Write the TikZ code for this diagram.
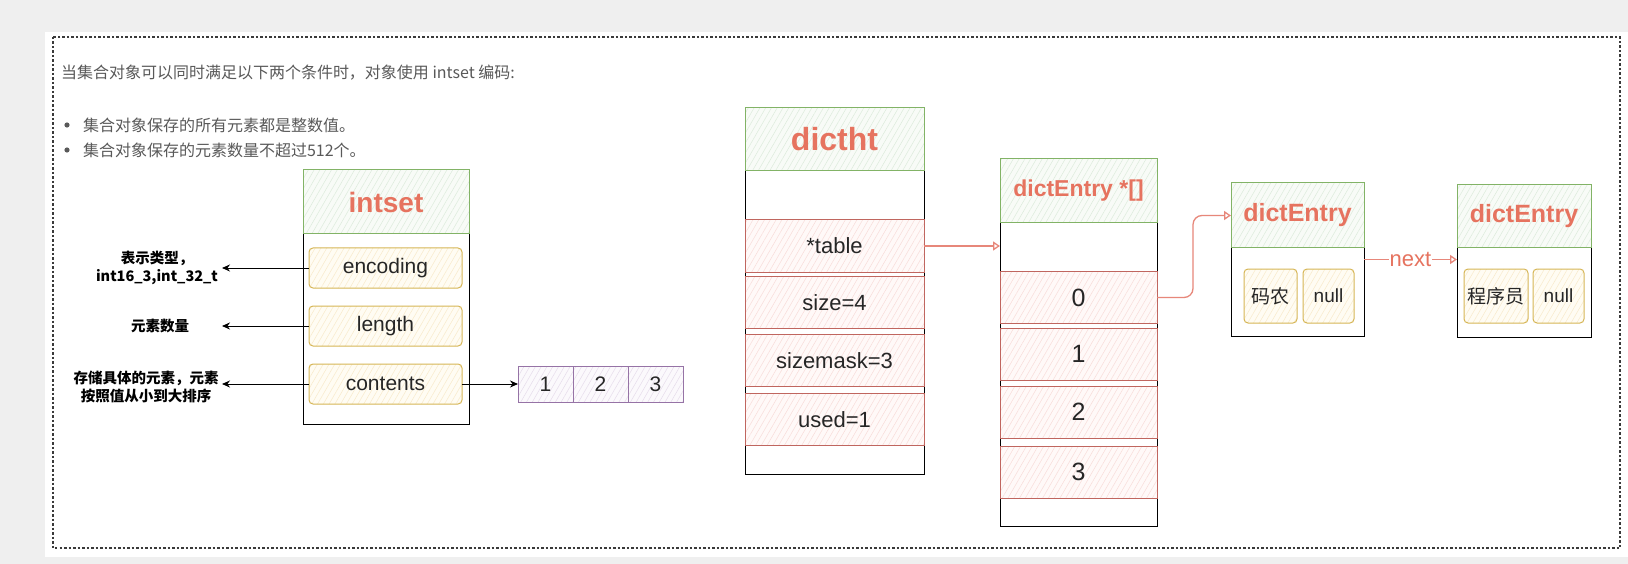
\documentclass[tikz,border=0pt]{standalone}
\usepackage{fontspec}
\setmainfont{Liberation Sans}
\newfontfamily\cjk{Noto Sans CJK SC}
\usetikzlibrary{arrows.meta,patterns.meta}
\definecolor{bgGray}{HTML}{EFEFEF}
\definecolor{frameC}{HTML}{3A3A3A}
\definecolor{txtGray}{HTML}{595959}
\definecolor{salmon}{HTML}{E6735F}
\definecolor{arrC}{HTML}{E7877A}
\definecolor{grnD}{HTML}{82B366}
\definecolor{grnF}{HTML}{F8FBF7}
\definecolor{grnH}{HTML}{DCEBDB}
\definecolor{redD}{HTML}{C0665F}
\definecolor{redF}{HTML}{FFF9F8}
\definecolor{redH}{HTML}{F8DCD9}
\definecolor{ylwD}{HTML}{D6B656}
\definecolor{ylwF}{HTML}{FFFCF3}
\definecolor{ylwH}{HTML}{F8EACB}
\definecolor{purD}{HTML}{9673A6}
\definecolor{purF}{HTML}{FBF9FC}
\definecolor{purH}{HTML}{E6DCEB}
\begin{document}
\begin{tikzpicture}[x=1pt,y=-1pt,
  every node/.style={inner sep=0pt, outer sep=0pt},
  frame/.style={draw=frameC, line width=1.3pt, dash pattern=on 2.5pt off 2pt},
  titletxt/.style={text=txtGray, font=\cjk\fontsize{16}{19}\selectfont, anchor=west},
  lbl/.style={align=center, text=black, font=\cjk\bfseries\fontsize{14.5}{18}\selectfont},
  body/.style={draw=black, line width=1pt, fill=white},
  hdr/.style={draw=grnD, line width=1pt, preaction={fill=grnF},
     preaction={pattern={Lines[angle=60,distance=5pt,line width=0.5pt]}, pattern color=grnH},
     text=salmon},
  yfld/.style={draw=ylwD, line width=1pt, rounded corners=4pt, preaction={fill=ylwF},
     preaction={pattern={Lines[angle=60,distance=5pt,line width=0.5pt]}, pattern color=ylwH},
     text=black!85, font=\fontsize{21}{24}\selectfont},
  rfld/.style={draw=redD, line width=1pt, preaction={fill=redF},
     preaction={pattern={Lines[angle=60,distance=5pt,line width=0.5pt]}, pattern color=redH},
     text=black!85},
  pcell/.style={draw=purD, line width=1pt, preaction={fill=purF},
     preaction={pattern={Lines[angle=60,distance=5pt,line width=0.5pt]}, pattern color=purH},
     text=black!85, font=\fontsize{21}{24}\selectfont, minimum width=55pt, minimum height=36pt},
  blkarr/.style={draw=black, line width=1pt, -{Stealth[length=8pt,width=7pt]}},
  salarr/.style={draw=arrC, line width=1.3pt, -{Triangle[open,length=7pt,width=9pt]}}
]
\useasboundingbox (0,0) rectangle (1628,564);
\fill[bgGray] (0,0) rectangle (1628,564);
\fill[white] (45,32) rectangle (1628,557);
\draw[frame] (53,37) rectangle (1620,548);

% heading text
\node[titletxt] (t0) at (61,73) {当集合对象可以同时满足以下两个条件时，对象使用 intset 编码:};
\fill[txtGray] (67,125) circle (2.6pt);
\fill[txtGray] (67,150) circle (2.6pt);
\node[titletxt] (b1) at (83,125) {集合对象保存的所有元素都是整数值。};
\node[titletxt] (b2) at (83,150) {集合对象保存的元素数量不超过512个。};

% intset
\node[body, minimum width=166pt, minimum height=254pt] (intset) at (386,297) {};
\node[hdr, minimum width=166pt, minimum height=64pt, font=\bfseries\fontsize{28}{30}\selectfont] (intsetH) at (386,202) {intset};
\node[yfld, minimum width=153pt, minimum height=40pt] (enc) at (385.5,268) {encoding};
\node[yfld, minimum width=153pt, minimum height=40pt] (len) at (385.5,326) {length};
\node[yfld, minimum width=153pt, minimum height=40pt] (cont) at (385.5,384) {contents};

\node[lbl] (l1) at (157,268) {表示类型，\\int16\_3,int\_32\_t};
\node[lbl] (l2) at (160,326) {元素数量};
\node[lbl] (l3) at (146,387) {存储具体的元素，元素\\按照值从小到大排序};
\coordinate (a1) at (222,268);
\coordinate (a2) at (222,326);
\coordinate (a3) at (222,384);
\draw[blkarr] (enc.west) -- (a1);
\draw[blkarr] (len.west) -- (a2);
\draw[blkarr] (cont.west) -- (a3);

\node[pcell] (c1) at (545.5,384) {1};
\node[pcell] (c2) at (600.5,384) {2};
\node[pcell] (c3) at (655.5,384) {3};
\draw[blkarr] (cont.east) -- (c1.west);

% dictht
\node[body, minimum width=179pt, minimum height=366pt] (dictht) at (834.5,291) {};
\node[hdr, minimum width=179pt, minimum height=63pt, font=\bfseries\fontsize{32}{34}\selectfont] (dicthtH) at (834.5,139.5) {dictht};
\node[rfld, minimum width=179pt, minimum height=52pt, font=\fontsize{22}{24}\selectfont] (tbl) at (834.5,246) {*table};
\node[rfld, minimum width=179pt, minimum height=52pt, font=\fontsize{22}{24}\selectfont] (sz) at (834.5,302.5) {size=4};
\node[rfld, minimum width=179pt, minimum height=52pt, font=\fontsize{22}{24}\selectfont] (msk) at (834.5,360.5) {sizemask=3};
\node[rfld, minimum width=179pt, minimum height=52pt, font=\fontsize{22}{24}\selectfont] (usd) at (834.5,419.5) {used=1};

% dictEntry *[]
\node[body, minimum width=157pt, minimum height=367pt] (dea) at (1078.5,342.5) {};
\node[hdr, minimum width=157pt, minimum height=64pt, font=\bfseries\fontsize{23}{25}\selectfont] (deaH) at (1078.5,191) {dictEntry *[]};
\node[rfld, minimum width=157pt, minimum height=52pt, font=\fontsize{25}{27}\selectfont] (d0) at (1078.5,297.5) {0};
\node[rfld, minimum width=157pt, minimum height=52pt, font=\fontsize{25}{27}\selectfont] (d1) at (1078.5,354) {1};
\node[rfld, minimum width=157pt, minimum height=52pt, font=\fontsize{25}{27}\selectfont] (d2) at (1078.5,412) {2};
\node[rfld, minimum width=157pt, minimum height=52pt, font=\fontsize{25}{27}\selectfont] (d3) at (1078.5,472) {3};

\draw[salarr] (tbl.east) -- (tbl.east -| dea.west);

% dictEntry 1
\node[body, minimum width=133pt, minimum height=153pt] (de1) at (1297.5,259.5) {};
\node[hdr, minimum width=133pt, minimum height=65pt, font=\bfseries\fontsize{25}{27}\selectfont] (de1H) at (1297.5,215.5) {dictEntry};
\node[yfld, minimum width=53pt, minimum height=54pt, font=\cjk\fontsize{19}{21}\selectfont] (k1) at (1270.5,296) {码农};
\node[yfld, minimum width=51pt, minimum height=54pt, font=\fontsize{19}{21}\selectfont] (n1) at (1328.5,296) {null};

% dictEntry 2
\node[body, minimum width=134pt, minimum height=152pt] (de2) at (1524,261) {};
\node[hdr, minimum width=134pt, minimum height=63pt, font=\bfseries\fontsize{25}{27}\selectfont] (de2H) at (1524,216.5) {dictEntry};
\node[yfld, minimum width=64pt, minimum height=54pt, font=\cjk\fontsize{19}{21}\selectfont] (k2) at (1496,296) {程序员};
\node[yfld, minimum width=51pt, minimum height=54pt, font=\fontsize{19}{21}\selectfont] (n2) at (1558.5,296) {null};

\draw[salarr, rounded corners=9pt] (d0.east) -- ++(36,0) |- (de1H.west);
\draw[salarr] (de1.east) -- node[fill=white, inner sep=1pt, text=salmon, font=\fontsize{22}{24}\selectfont] (nx) {next} (de1.east -| de2.west);
\end{tikzpicture}
\end{document}
